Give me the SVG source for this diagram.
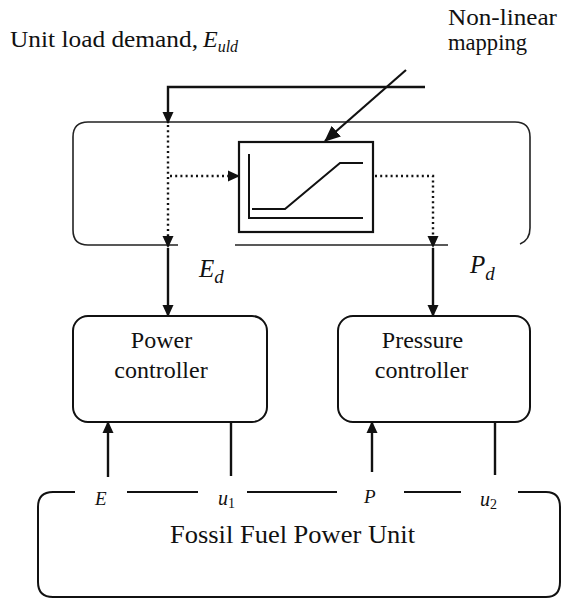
<svg xmlns="http://www.w3.org/2000/svg" width="562" height="599" viewBox="0 0 562 599">
<style>
.t{font-family:"Liberation Serif","Times New Roman",serif;fill:#111}
.i{font-family:"Liberation Serif","Times New Roman",serif;font-style:italic;fill:#111}
.box{fill:none;stroke:#111;stroke-width:2}
.thin{fill:none;stroke:#222;stroke-width:1.6}
.ln{fill:none;stroke:#111;stroke-width:2.4}
.dot{fill:none;stroke:#111;stroke-width:2.4;stroke-dasharray:2 3.2}
</style>
<defs>
<marker id="ah" markerUnits="userSpaceOnUse" markerWidth="12" markerHeight="12" viewBox="0 0 12 12" refX="11" refY="6" orient="auto">
<path d="M0,0.5 L12,6 L0,11.5 z" fill="#111"/>
</marker>
<marker id="ahb" markerUnits="userSpaceOnUse" markerWidth="16" markerHeight="16" viewBox="0 0 16 16" refX="15" refY="8" orient="auto">
<path d="M0,1 L16,8 L0,15 z" fill="#111"/>
</marker>
</defs>

<g id="labels">
<text class="t" x="10" y="47" font-size="23" textLength="188" lengthAdjust="spacingAndGlyphs">Unit load demand,</text>
<text class="i" x="203" y="47" font-size="24">E<tspan font-size="16" dy="5">uld</tspan></text>
<text class="t" x="448" y="25" font-size="23" textLength="109" lengthAdjust="spacingAndGlyphs">Non-linear</text>
<text class="t" x="448" y="50" font-size="23" textLength="79" lengthAdjust="spacingAndGlyphs">mapping</text>
<text class="i" x="199" y="277" font-size="25">E<tspan font-size="19" dy="6">d</tspan></text>
<text class="i" x="470" y="273" font-size="25">P<tspan font-size="19" dy="7">d</tspan></text>
</g>

<g id="mapping-block">
<path class="thin" d="M178,245 H88 Q73,245 73,230 V137 Q73,122 88,122 H515 Q530,122 530,137 V228 Q530,240 520,244"/>
<path class="thin" d="M235,245 H448"/>
<rect x="239" y="142" width="134" height="90" fill="none" stroke="#111" stroke-width="2.2"/>
<path d="M249,154 V218 H363" fill="none" stroke="#111" stroke-width="2"/>
<path d="M252,209 H285 L340,163 H363" fill="none" stroke="#111" stroke-width="2"/>
</g>

<g id="power-controller">
<rect class="box" x="73" y="316" width="194" height="106" rx="15"/>
<text class="t" x="161.5" y="348" font-size="24" text-anchor="middle">Power</text>
<text class="t" x="161" y="378" font-size="24" text-anchor="middle">controller</text>
</g>

<g id="pressure-controller">
<rect class="box" x="338" y="316" width="192" height="106" rx="15"/>
<text class="t" x="422.5" y="348" font-size="24" text-anchor="middle">Pressure</text>
<text class="t" x="421.5" y="378" font-size="24" text-anchor="middle">controller</text>
</g>

<g id="fossil-unit">
<path class="box" d="M75,492 H53 Q38,492 38,507 V582 Q38,597 53,597 H546 Q560,597 560,582 V507 Q560,492 546,492 H518"/>
<path class="box" d="M127,492 H198 M247,492 H337 M404,492 H461"/>
<text class="t" x="170" y="543" font-size="26" textLength="245" lengthAdjust="spacingAndGlyphs">Fossil Fuel Power Unit</text>
<text class="i" x="95" y="505" font-size="19">E</text>
<text class="i" x="218" y="505" font-size="20">u<tspan class="t" font-style="normal" font-size="14" dy="3">1</tspan></text>
<text class="i" x="364" y="503" font-size="19">P</text>
<text class="i" x="480" y="506" font-size="20">u<tspan class="t" font-style="normal" font-size="14" dy="3">2</tspan></text>
</g>

<g id="connectors">
<path class="ln" d="M425,87 H168 V123" marker-end="url(#ah)"/>
<path d="M406,70 L325,141" fill="none" stroke="#111" stroke-width="2.2" marker-end="url(#ahb)"/>
<path class="dot" d="M168,125 V247" marker-end="url(#ah)"/>
<path class="dot" d="M170,176 H239" marker-end="url(#ah)"/>
<path class="dot" d="M375,176 H433 V247" marker-end="url(#ah)"/>
<path class="ln" d="M168,248 V316" marker-end="url(#ah)"/>
<path class="ln" d="M433,248 V316" marker-end="url(#ah)"/>
<path class="ln" d="M108,477 V422" marker-end="url(#ah)"/>
<path class="ln" d="M231,422 V476"/>
<path class="ln" d="M372,472 V422" marker-end="url(#ah)"/>
<path class="ln" d="M495,422 V475"/>
</g>
</svg>
